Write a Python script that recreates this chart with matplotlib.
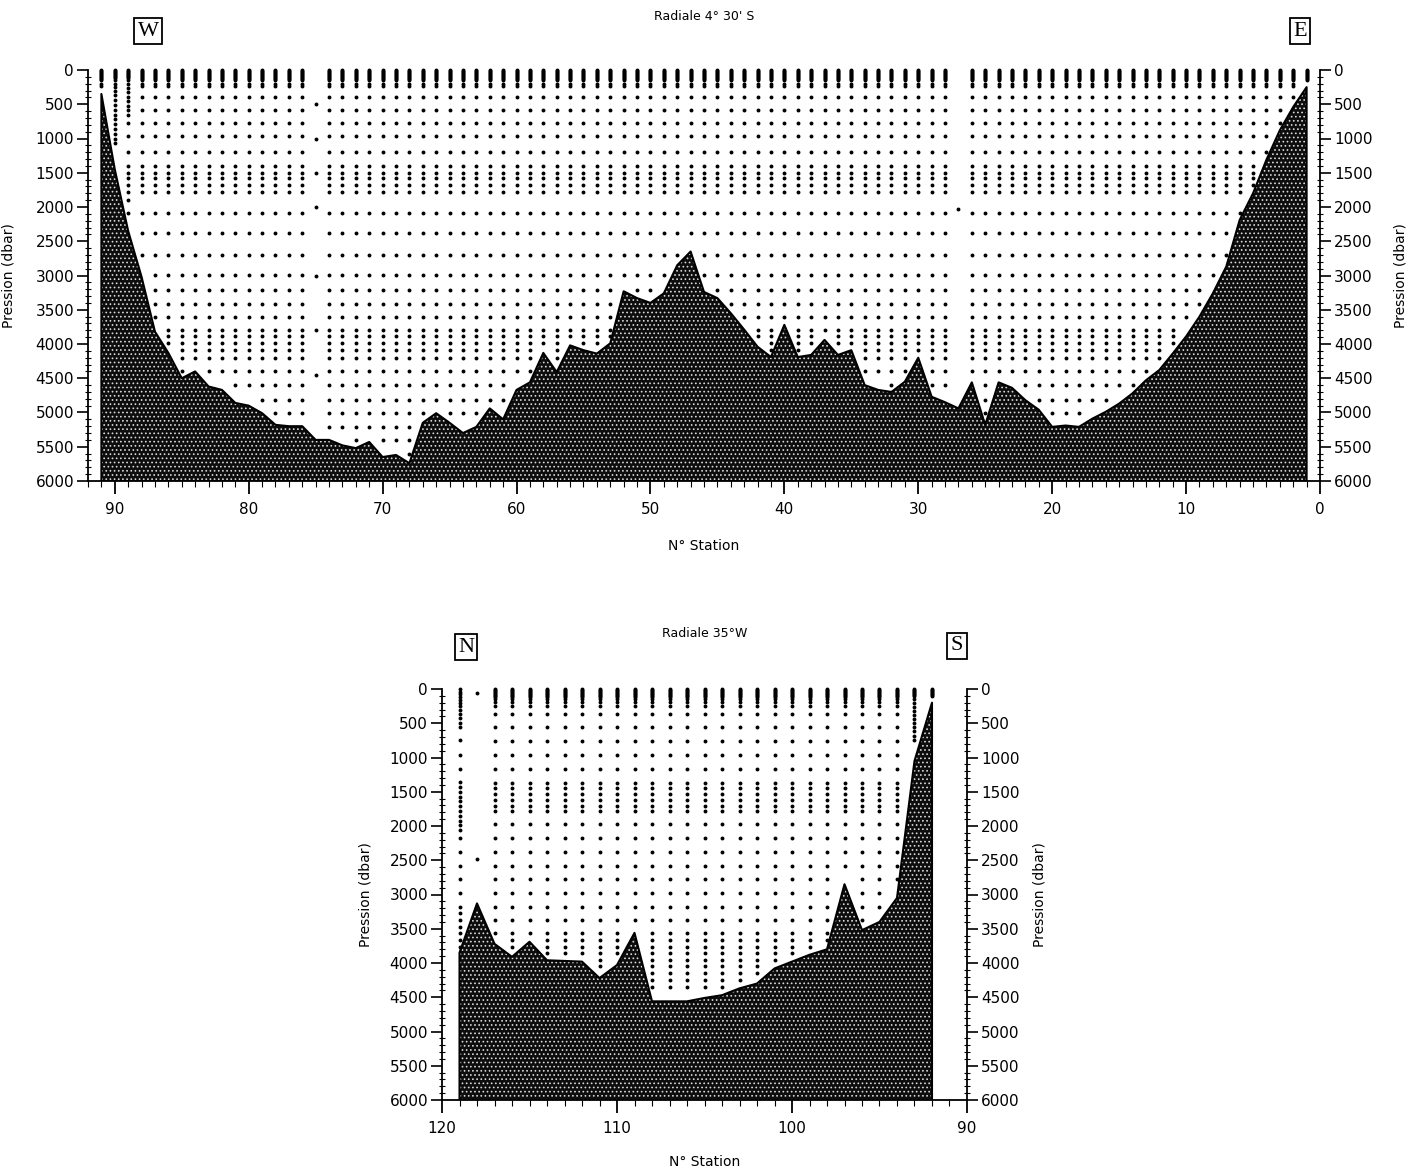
import numpy as np
import matplotlib.pyplot as plt
from matplotlib.ticker import MultipleLocator

plt.rcParams['hatch.linewidth'] = 0.7

# Radiale 4 30' S : stations 1..91, bottom pressure (dbar)
stations_ew = list(range(1, 92))
bottom_ew = [250, 540, 880, 1310, 1800, 2190, 2870, 3260, 3600, 3890,
             4140, 4380, 4530, 4720, 4870, 4990, 5090, 5210, 5190, 5210,
             4960, 4820, 4640, 4560, 5180, 4560, 4940, 4850, 4770, 4200,
             4550, 4700, 4670, 4600, 4090, 4160, 3940, 4160, 4190, 3720,
             4190, 4040, 3790, 3550, 3330, 3240, 2650, 2850, 3260, 3400,
             3330, 3230, 3990, 4140, 4090, 4020, 4410, 4130, 4560, 4670,
             5100, 4940, 5210, 5300, 5150, 5010, 5150, 5740, 5620, 5650,
             5430, 5520, 5480, 5400, 5400, 5200, 5200, 5180, 5010, 4900,
             4860, 4670, 4620, 4400, 4500, 4130, 3820, 3020, 2350, 1450,
             350]
levels_ew = [0, 15, 30, 45, 60, 75, 90, 105, 120, 135, 150, 200, 240,
             390, 580, 780, 970, 1190, 1400, 1510, 1580, 1680, 1780, 2090,
             2380, 2700, 2990, 3210, 3410, 3600, 3800, 3890, 3990, 4090,
             4210, 4400, 4600, 4820, 5010, 5210, 5400, 5600]
special_ew = {75: [500, 1000, 1500, 2000, 3000, 3800, 4450],
              27: [2030],
              90: [0, 15, 30, 45, 60, 75, 90, 105, 120, 150, 200, 250, 300,
                   370, 440, 510, 580, 650, 720, 790, 860, 930, 1000, 1070],
              89: [0, 15, 30, 45, 60, 75, 90, 105, 120, 150, 200, 260, 320,
                   390, 450, 520, 580, 650, 780, 970, 1190, 1400, 1510,
                   1580, 1680, 1780, 1900, 2090]}

# Radiale 35 W : stations 92..119
stations_ns = list(range(92, 120))
bottom_ns = [200, 1050, 3050, 3400, 3520, 2850, 3800, 3880, 3980, 4080,
             4300, 4370, 4470, 4510, 4560, 4560, 4560, 3560, 4030, 4220,
             3980, 3970, 3960, 3690, 3910, 3720, 3130, 3850]
levels_ns = [0, 15, 30, 45, 60, 75, 90, 105, 120, 150, 185, 250, 365,
             560, 755, 965, 1170, 1365, 1450, 1535, 1620, 1705, 1780, 1970,
             2180, 2375, 2580, 2775, 2975, 3180, 3370, 3560, 3660, 3760,
             3850, 3950, 4050, 4150, 4250, 4350]
special_ns = {118: [60, 2480],
              119: [0, 40, 80, 120, 160, 200, 250, 300, 360, 430, 500, 560,
                    750, 960, 1170, 1360, 1430, 1500, 1570, 1640, 1710, 1780,
                    1850, 1920, 1990, 2060, 2180, 2380, 2580, 2780, 2980,
                    3180, 3270, 3370, 3470, 3560, 3660, 3760],
              92: [0, 15, 30, 45, 60, 75, 90, 105],
              93: [0, 15, 30, 45, 60, 75, 90, 105, 150, 200, 260, 320, 380,
                   440, 500, 560, 620, 680, 740]}


def section(ax, st, bot, levels, special, xlim):
    ax.fill_between(st, bot, 6000, facecolor='#0d0d0d', edgecolor='#d8d8d8',
                    hatch='....', linewidth=0, zorder=2)
    ax.plot([st[0]] + st + [st[-1]], [6000] + bot + [6000], color='black',
            lw=1.5, zorder=3)
    xs, ys = [], []
    for s, b in zip(st, bot):
        lv = special.get(s, [l for l in levels if l < b - 90])
        xs += [s] * len(lv)
        ys += lv
    ax.plot(xs, ys, 'o', ms=2.8, color='black', mec='none', zorder=4,
            clip_on=False)
    ax.set_xlim(*xlim)
    ax.set_ylim(6000, 0)
    ax.spines['top'].set_visible(False)
    for sp in ['left', 'right', 'bottom']:
        ax.spines[sp].set_linewidth(1.3)
    ax.xaxis.set_major_locator(MultipleLocator(10))
    ax.xaxis.set_minor_locator(MultipleLocator(1))
    ax.yaxis.set_major_locator(MultipleLocator(500))
    ax.yaxis.set_minor_locator(MultipleLocator(100))
    ax.tick_params(axis='y', which='both', left=True, right=True,
                   labelleft=True, labelright=True, labelsize=11)
    ax.tick_params(axis='y', which='major', direction='out', length=8,
                   width=1.2, pad=2)
    ax.tick_params(axis='y', which='minor', direction='inout', length=5,
                   width=0.8)
    ax.tick_params(axis='x', which='major', direction='out', length=9,
                   width=1.3, labelsize=11, pad=6)
    ax.tick_params(axis='x', which='minor', direction='out', length=4,
                   width=0.8)
    ax.set_xlabel('N° Station', fontsize=10)


fig = plt.figure(figsize=(14.18, 11.70), dpi=100)
W, H = 1418, 1170

ax1 = fig.add_axes([88 / W, 1 - 481 / H, 1232 / W, 411 / H])
section(ax1, stations_ew, bottom_ew, levels_ew, special_ew, (92, 0))
ax1.xaxis.set_label_coords(0.5, -0.14)
ax1.set_ylabel('Pression (dbar)', fontsize=10)
ax1.yaxis.set_label_coords(-0.059, 0.5)
ax1.text(1.065, 0.5, 'Pression (dbar)', fontsize=10, rotation=90,
         ha='center', va='center', transform=ax1.transAxes)
ax1.text(0.5, 1.13, "Radiale 4° 30' S", fontsize=9, ha='center',
         va='center', transform=ax1.transAxes)

ax2 = fig.add_axes([442 / W, 1 - 1100 / H, 525 / W, 411 / H])
section(ax2, stations_ns, bottom_ns, levels_ns, special_ns, (120, 90))
ax2.xaxis.set_label_coords(0.5, -0.135)
ax2.set_ylabel('Pression (dbar)', fontsize=10)
ax2.yaxis.set_label_coords(-0.133, 0.5)
ax2.text(1.139, 0.5, 'Pression (dbar)', fontsize=10, rotation=90,
         ha='center', va='center', transform=ax2.transAxes)
ax2.text(0.5, 1.135, 'Radiale 35°W', fontsize=9, ha='center',
         va='center', transform=ax2.transAxes)

for lab, px, py in [('W', 148, 31), ('E', 1300, 31), ('N', 466, 647),
                    ('S', 957, 646)]:
    fig.text(px / W, 1 - py / H, lab, family='Liberation Serif', fontsize=16,
             ha='center', va='center',
             bbox=dict(boxstyle='square,pad=0.15', fc='white', ec='black',
                       lw=1.3))

fig.savefig('out.png', dpi=100)
